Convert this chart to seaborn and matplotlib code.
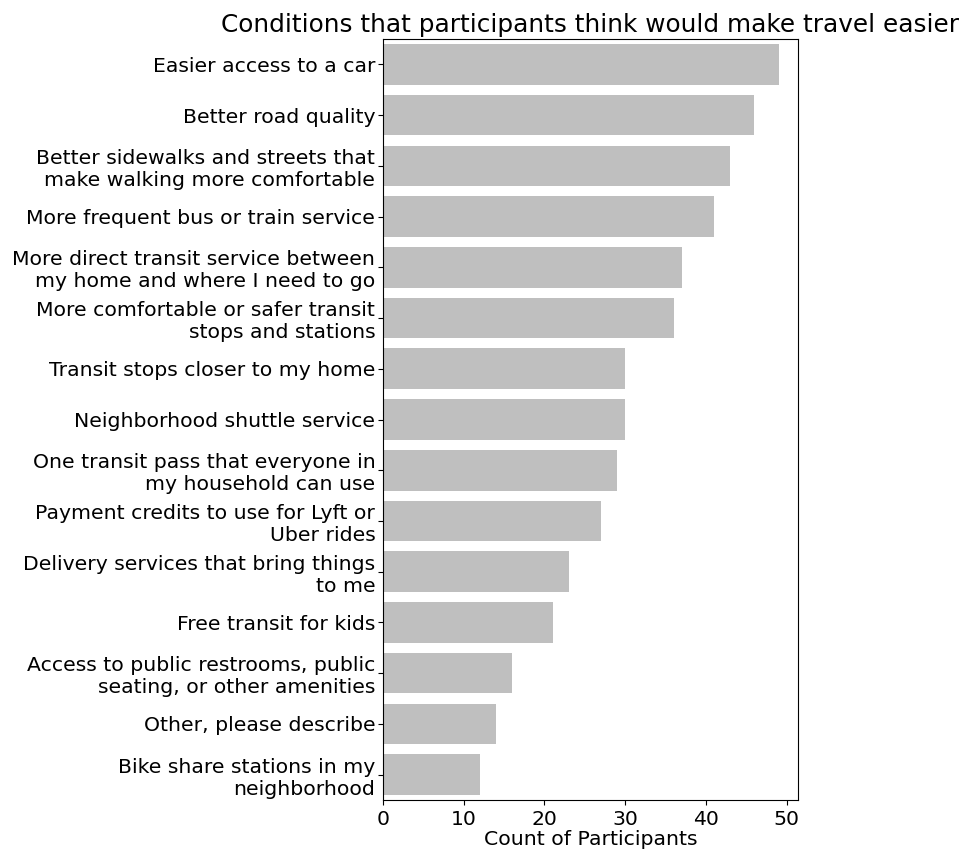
import matplotlib
matplotlib.use("Agg")
import matplotlib.pyplot as plt
import seaborn as sns
import pandas as pd

conditions = [
    "Easier access to a car",
    "Better road quality",
    "Better sidewalks and streets that\nmake walking more comfortable",
    "More frequent bus or train service",
    "More direct transit service between\nmy home and where I need to go",
    "More comfortable or safer transit\nstops and stations",
    "Transit stops closer to my home",
    "Neighborhood shuttle service",
    "One transit pass that everyone in\nmy household can use",
    "Payment credits to use for Lyft or\nUber rides",
    "Delivery services that bring things\nto me",
    "Free transit for kids",
    "Access to public restrooms, public\nseating, or other amenities",
    "Other, please describe",
    "Bike share stations in my\nneighborhood",
]
counts = [49, 46, 43, 41, 37, 36, 30, 30, 29, 27, 23, 21, 16, 14, 12]
xticks = [0, 10, 20, 30, 40, 50]

df = pd.DataFrame({"condition": conditions, "count": counts})

fig = plt.figure(figsize=(9.62, 8.52), dpi=100)
ax = fig.add_axes([383/962, 1 - 800/852, (798-383)/962, (800-39)/852])
sns.barplot(data=df, x="count", y="condition", color="#bfbfbf", saturation=1, ax=ax)
ax.set_xticks(xticks)
ax.set_xlim(0, 51.4)
ax.tick_params(axis="both", labelsize=14.7)
ax.tick_params(axis="y", pad=2)
ax.set_ylabel("")
ax.set_xlabel("Count of Participants", fontsize=14.7, labelpad=1)
ax.set_title("Conditions that participants think would make travel easier", fontsize=17.8, pad=5)
fig.savefig("out.png", dpi=100)
